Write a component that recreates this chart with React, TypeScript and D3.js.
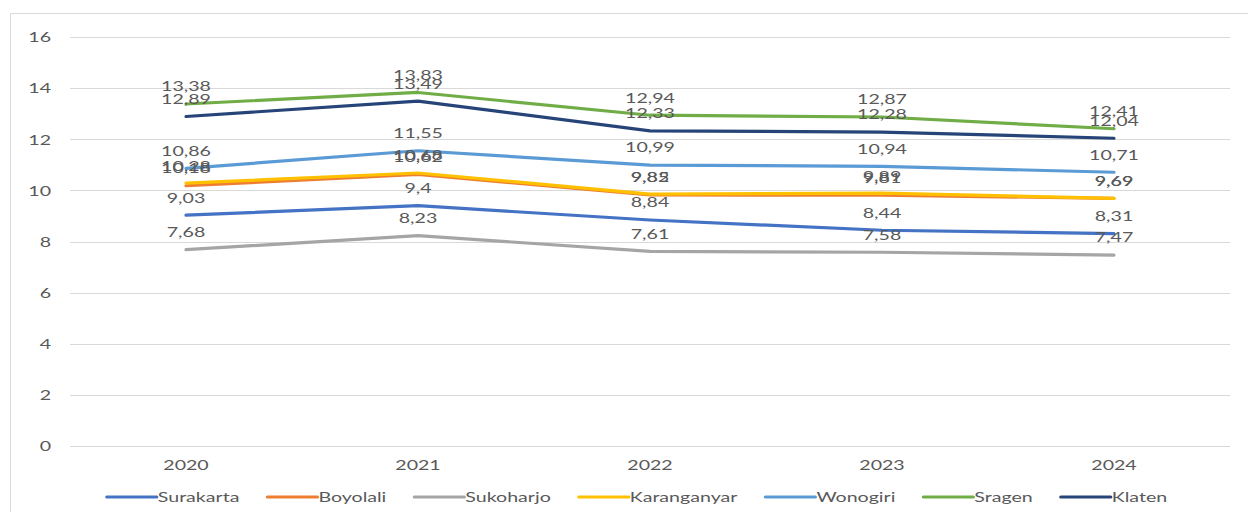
import { useEffect, useRef } from "react"
import * as d3 from "d3"

const years = ["2020", "2021", "2022", "2023", "2024"]
const surakarta = [9.03, 9.4, 8.84, 8.44, 8.31]
const boyolali = [10.18, 10.62, 9.82, 9.81, 9.69]
const sukoharjo = [7.68, 8.23, 7.61, 7.58, 7.47]
const karanganyar = [10.28, 10.68, 9.85, 9.89, 9.69]
const wonogiri = [10.86, 11.55, 10.99, 10.94, 10.71]
const sragen = [13.38, 13.83, 12.94, 12.87, 12.41]
const klaten = [12.89, 13.49, 12.33, 12.28, 12.04]

const seriesNames = ["Surakarta", "Boyolali", "Sukoharjo", "Karanganyar", "Wonogiri", "Sragen", "Klaten"]
const seriesValues = [surakarta, boyolali, sukoharjo, karanganyar, wonogiri, sragen, klaten]
const seriesColors = ["#4472C4", "#ED7D31", "#A5A5A5", "#FFC000", "#5B9BD5", "#70AD47", "#264478"]

const W = 1248
const H = 512
const SX = 1.4 // text in the source is stretched horizontally
const FONT = "Lato, 'DejaVu Sans', sans-serif"

const fmt = (v: number) => String(v).replace(".", ",")

export default function App() {
  const svgRef = useRef<SVGSVGElement | null>(null)

  useEffect(() => {
    if (!svgRef.current) return
    const svg = d3.select(svgRef.current)
    svg.selectAll("*").remove()

    const left = 70
    const right = 1230
    const top = 37
    const bottom = 446

    const x = d3.scaleBand().domain(years).range([left, right]).padding(0)
    const cx = (yr: string) => (x(yr) ?? 0) + x.bandwidth() / 2
    const y = d3.scaleLinear().domain([0, 16]).range([bottom, top])

    // outer frame (left + top edge visible)
    svg.append("path").attr("d", `M10.5,${H} V13.5 H${W}`).attr("fill", "none").attr("stroke", "#d9d9d9").attr("stroke-width", 1)

    const scaledText = (sel: d3.Selection<SVGGElement, unknown, null, undefined>, tx: number, ty: number, txt: string, anchor: string) =>
      sel
        .append("text")
        .attr("transform", `translate(${tx},${ty}) scale(${SX},1)`)
        .attr("text-anchor", anchor)
        .attr("dominant-baseline", "central")
        .attr("fill", "#595959")
        .style("font-family", FONT)
        .style("font-size", "14px")
        .text(txt)

    const grid = svg.append("g")
    y.ticks(8).forEach((t) => {
      grid
        .append("line")
        .attr("x1", left)
        .attr("x2", right)
        .attr("y1", Math.round(y(t)) + 0.5)
        .attr("y2", Math.round(y(t)) + 0.5)
        .attr("stroke", "#d9d9d9")
        .attr("stroke-width", 1)
      scaledText(grid, 51, y(t), String(t), "end")
    })

    years.forEach((yr) => scaledText(grid, cx(yr), 465, yr, "middle"))

    const line = d3
      .line<number>()
      .x((_, i) => cx(years[i]))
      .y((d) => y(d))

    const lines = svg.append("g")
    seriesValues.forEach((vals, si) => {
      lines
        .append("path")
        .datum(vals)
        .attr("d", line)
        .attr("fill", "none")
        .attr("stroke", seriesColors[si])
        .attr("stroke-width", 3.2)
        .attr("stroke-linejoin", "round")
        .attr("stroke-linecap", "round")
    })

    const labels = svg.append("g")
    seriesValues.forEach((vals) => {
      vals.forEach((v, i) => scaledText(labels, cx(years[i]), y(v) - 18, fmt(v), "middle"))
    })

    // legend
    const legend = svg.append("g")
    const lineLen = 50
    const gap = 28
    const items = seriesNames.map((name, i) => {
      const g = legend.append("g")
      g.append("line")
        .attr("x1", 0)
        .attr("x2", lineLen)
        .attr("y1", 0)
        .attr("y2", 0)
        .attr("stroke", seriesColors[i])
        .attr("stroke-width", 3.2)
        .attr("stroke-linecap", "round")
      const t = scaledText(g, lineLen + 1, 0, name, "start")
      const w = lineLen + 1 + (t.node() as SVGTextElement).getComputedTextLength() * SX
      return { g, w }
    })
    const total = d3.sum(items, (d) => d.w) + gap * (items.length - 1)
    let pos = 637 - total / 2
    items.forEach((it) => {
      it.g.attr("transform", `translate(${pos},497)`)
      pos += it.w + gap
    })
  }, [])

  return (
    <div style={{ position: "absolute", left: 0, top: 0, background: "#fff" }}>
      <svg ref={svgRef} width={W} height={H} style={{ display: "block" }} />
    </div>
  )
}
